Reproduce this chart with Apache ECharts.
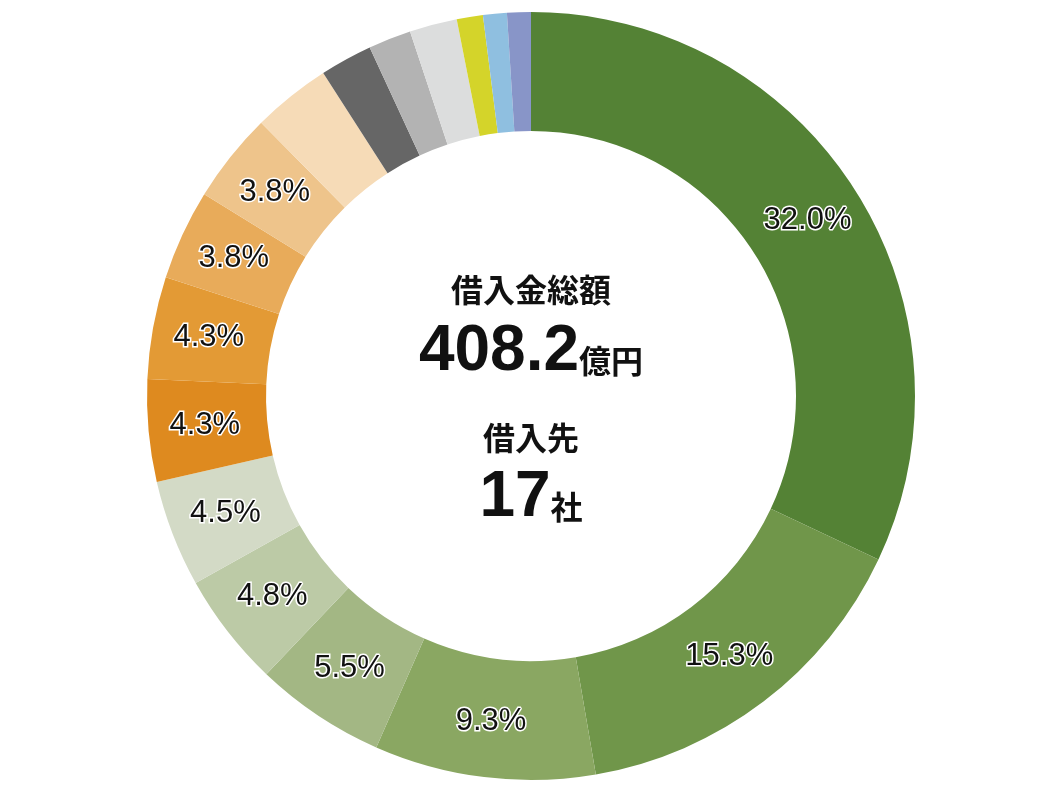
<!DOCTYPE html>
<html><head><meta charset="utf-8">
<script src="https://cdn.jsdelivr.net/npm/echarts@6/dist/echarts.min.js"></script>
<style>html,body{margin:0;padding:0;background:#fff}#c{width:1060px;height:792px}</style>
</head><body><div id="c"></div>
<script>
const names = ['A','B','C','D','E','F','G','H','I','J','K','L','M','N','O','P','Q'];
const values = [32.0,15.3,9.3,5.5,4.8,4.5,4.3,4.3,3.8,3.8,3.3,2.2,1.8,2.0,1.1,1.0,1.0];
const showLabel = [1,1,1,1,1,1,1,1,1,1,0,0,0,0,0,0,0];
const colors = ['#548235','#70964a','#8aa762','#a3b784','#bccaa6','#d3dac6','#de8a1f','#e39a35','#e8ab5a','#eec48b','#f6dbb7','#666666','#b3b3b3','#dcdddd','#d4d42a','#8fbfe0','#8895c8'];
const chart = echarts.init(document.getElementById('c'));
const F = '"Liberation Sans", Arial, "Noto Sans CJK JP", sans-serif';
chart.setOption({
  animation:false,
  series:[{
    type:'pie', center:[531,396], radius:[265,384], startAngle:90, clockwise:true,
    label:{position:'inside', fontSize:31, fontFamily:F, color:'#111', textBorderColor:'#fff', textBorderWidth:3,
      formatter:p=>p.value.toFixed(1)+'%'},
    labelLine:{show:false},
    data: names.map((n,i)=>({name:n,value:values[i],itemStyle:{color:colors[i]},label:{show:!!showLabel[i]}}))
  }],
  graphic:[
    {type:'text',left:'center',top:0,style:{x:531,y:0,text:''}},
    {type:'text',x:531,y:290,style:{text:'借入金総額',fill:'#111',font:'bold 32px "Noto Sans CJK JP"',align:'center',verticalAlign:'middle'}},
    {type:'text',x:531,y:352,style:{text:'{a|408.2}{b|億円}',align:'center',verticalAlign:'middle',
      rich:{a:{font:'bold 64px '+F,fill:'#111'},b:{font:'bold 32px "Noto Sans CJK JP"',fill:'#111',padding:[18,0,0,0]}}}},
    {type:'text',x:531,y:438,style:{text:'借入先',fill:'#111',font:'bold 32px "Noto Sans CJK JP"',align:'center',verticalAlign:'middle'}},
    {type:'text',x:531,y:498,style:{text:'{a|17}{b|社}',align:'center',verticalAlign:'middle',
      rich:{a:{font:'bold 64px '+F,fill:'#111'},b:{font:'bold 32px "Noto Sans CJK JP"',fill:'#111',padding:[18,0,0,0]}}}}
  ]
});
</script></body></html>
